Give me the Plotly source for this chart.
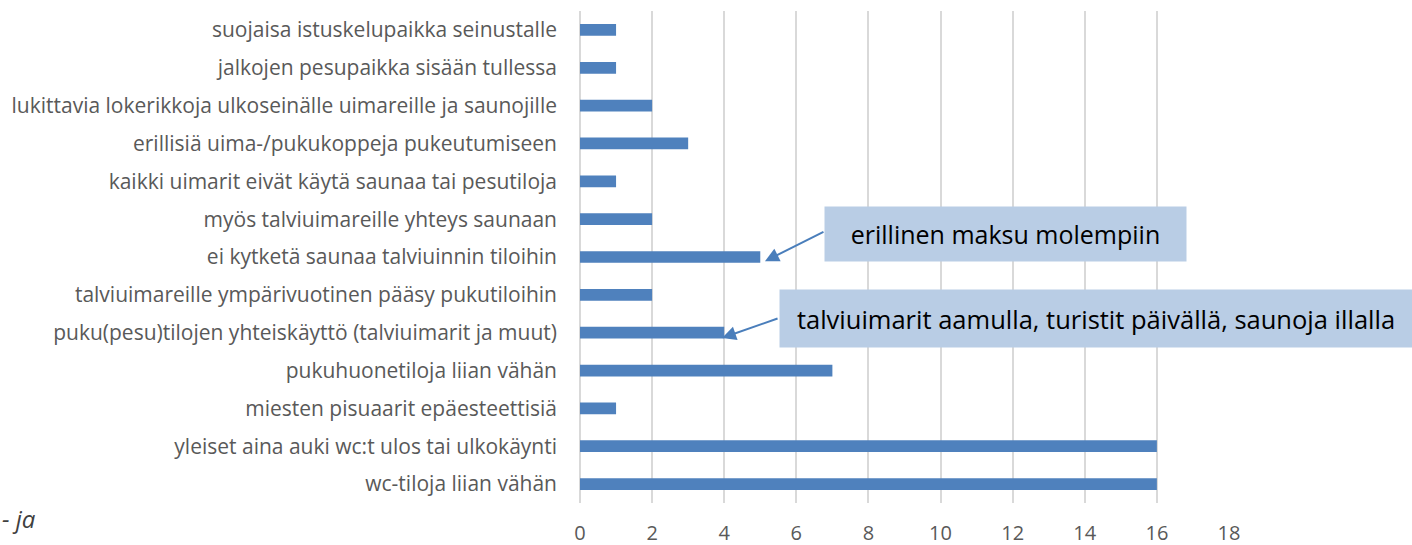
import plotly.graph_objects as go

categories = [
    "suojaisa istuskelupaikka seinustalle",
    "jalkojen pesupaikka sisään tullessa",
    "lukittavia lokerikkoja ulkoseinälle uimareille ja saunojille",
    "erillisiä uima-/pukukoppeja pukeutumiseen",
    "kaikki uimarit eivät käytä saunaa tai pesutiloja",
    "myös talviuimareille yhteys saunaan",
    "ei kytketä saunaa talviuinnin tiloihin",
    "talviuimareille ympärivuotinen pääsy pukutiloihin",
    "puku(pesu)tilojen yhteiskäyttö (talviuimarit ja muut)",
    "pukuhuonetiloja liian vähän",
    "miesten pisuaarit epäesteettisiä",
    "yleiset aina auki wc:t ulos tai ulkokäynti",
    "wc-tiloja liian vähän",
]
values = [1, 1, 2, 3, 1, 2, 5, 2, 4, 7, 1, 16, 16]
tick_vals = [0, 2, 4, 6, 8, 10, 12, 14, 16, 18]
note1 = "erillinen maksu molempiin"
note2 = "talviuimarit aamulla, turistit päivällä, saunoja illalla"

FONT = "'Open Sans', Lato, sans-serif"

fig = go.Figure()
fig.add_trace(go.Bar(
    x=values, y=categories, orientation="h",
    marker=dict(color="#4f81bd", line=dict(width=0)),
    width=0.31,
))

W, H = 1412, 545
L, R, T, B = 580, 183, 11, 42
pw = W - L - R
ph = H - T - B

def px_to_paper_x(px):
    return (px - L) / pw

def px_to_paper_y(py):
    return (H - B - py) / ph

annotations = [
    # boxes
    dict(x=11.8, y=5.39, xref="x", yref="y", text=note1, showarrow=False,
         bgcolor="#b9cde5", width=361, height=54, borderpad=0,
         font=dict(family=FONT, size=25, color="#000000")),
    dict(x=14.3, y=7.63, xref="x", yref="y", text=note2, showarrow=False,
         bgcolor="#b9cde5", width=632, height=57, borderpad=0,
         font=dict(family=FONT, size=25.5, color="#000000")),
    # arrows
    dict(x=5.13, y=6.11, xref="x", yref="y", text="", showarrow=True,
         ax=60, ay=-30, arrowhead=2, arrowsize=1.4, arrowwidth=2,
         arrowcolor="#4a7ebb"),
    dict(x=3.94, y=8.14, xref="x", yref="y", text="", showarrow=True,
         ax=57, ay=-20, arrowhead=2, arrowsize=1.4, arrowwidth=2,
         arrowcolor="#4a7ebb"),
    # leftover slide text, bottom-left
    dict(x=px_to_paper_x(0), y=px_to_paper_y(518), xref="paper", yref="paper",
         text="<i>- ja</i>", showarrow=False, xanchor="left", yanchor="middle",
         font=dict(family=FONT, size=24, color="#404040")),
]

fig.update_layout(
    width=W, height=H,
    margin=dict(l=L, r=R, t=T, b=B, autoexpand=False),
    paper_bgcolor="white", plot_bgcolor="white",
    showlegend=False,
    bargap=0.68,
    font=dict(family=FONT, size=21, color="#595959"),
    annotations=annotations,
    xaxis=dict(
        range=[0, 18], tickvals=tick_vals, showgrid=True,
        gridcolor="#d9d9d9", gridwidth=1.5, zeroline=True,
        zerolinecolor="#d9d9d9", zerolinewidth=1.5,
        showline=False, ticks="", ticklabelstandoff=16,
        tickfont=dict(family=FONT, size=20, color="#595959"),
    ),
    yaxis=dict(
        autorange="reversed", showgrid=False, showline=False, ticks="",
        ticklabelstandoff=22,
        tickfont=dict(family=FONT, size=21, color="#595959"),
    ),
)

fig.write_html(
    "out.html",
    config={"displayModeBar": False},
    post_script="document.body.style.margin='0px';document.body.style.overflow='hidden';",
)
